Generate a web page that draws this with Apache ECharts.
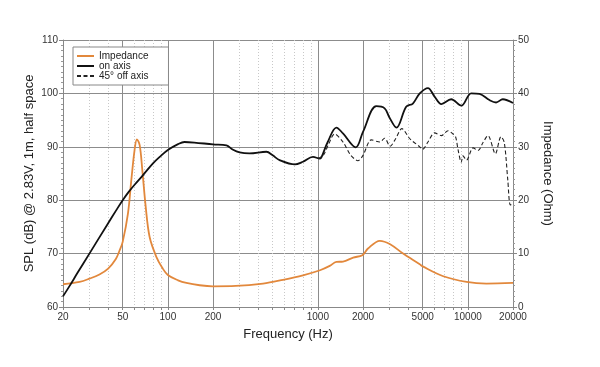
<!DOCTYPE html>
<html><head><meta charset="utf-8">
<script src="https://cdn.jsdelivr.net/npm/echarts@6/dist/echarts.min.js"></script>
<style>html,body{margin:0;padding:0;background:#fff}#c{width:600px;height:367px}</style>
</head><body><div id="c"></div>
<script>
// ---- tick / grid values ----
const xLabelValues = [20, 50, 100, 200, 1000, 2000, 5000, 10000, 20000];
const xMajorLines = [20, 50, 100, 200, 1000, 2000, 5000, 10000, 20000];
const xGridValues = [20, 30, 40, 50, 60, 70, 80, 90, 100, 200, 300, 400, 500, 600, 700, 800, 900,
  1000, 2000, 3000, 4000, 5000, 6000, 7000, 8000, 9000, 10000, 20000];

// ---- Impedance (Ohm) ----
const impFreq = [20, 25.8, 30, 35, 40, 45, 47.7, 50, 54.2, 57.1, 60, 62.2, 64.9, 67.6, 71.2, 75.6, 83.8, 92, 100, 117, 133, 163, 200, 284, 431, 586, 796, 1034, 1200, 1330, 1471, 1720, 1980, 2160, 2590, 3034, 3700, 4780, 5000, 6860, 9800, 13300, 20000];
const impOhm = [4.26, 4.69, 5.3, 6.1, 7.2, 9.0, 10.6, 12.2, 17.5, 23.8, 29.4, 31.4, 30.3, 25.6, 18.75, 13.1, 9.4, 7.3, 6.0, 5.0, 4.5, 4.07, 3.88, 3.94, 4.39, 5.1, 5.94, 6.88, 7.7, 8.44, 8.5, 9.26, 9.7, 10.95, 12.4, 11.76, 10.0, 8.0, 7.6, 5.76, 4.7, 4.39, 4.5];

// ---- On axis SPL (dB) ----
const onFreq = [20, 22.2, 25, 30, 40, 45, 50, 55, 60, 68.3, 79.6, 88.2, 100, 117, 129, 150, 200, 246, 270, 301, 350, 454, 500, 556, 702, 796, 928, 1034, 1056, 1164, 1330, 1471, 1790, 2000, 2454, 2787, 3000, 3340, 3880, 4300, 4780, 5420, 6000, 6660, 7740, 9040, 10530, 11960, 13930, 15420, 17100, 20000];
const onSpl = [62.0, 64.0, 66.4, 70.0, 75.7, 78.0, 80.0, 81.6, 82.9, 84.7, 86.9, 88.1, 89.4, 90.5, 90.9, 90.8, 90.45, 90.26, 89.5, 88.95, 88.76, 89.07, 88.4, 87.5, 86.7, 87.2, 88.1, 87.8, 88.0, 90.9, 93.6, 92.5, 89.9, 92.8, 97.6, 97.2, 95.5, 93.6, 97.5, 98.1, 100.0, 101.0, 99.4, 98.0, 98.9, 97.7, 100.0, 99.9, 98.75, 98.3, 98.9, 98.2];

// ---- 45° off axis SPL (dB) ----
const offFreq = [1000, 1088, 1180, 1292, 1471, 1650, 1850, 2000, 2272, 2590, 2787, 3034, 3300, 3630, 4080, 4300, 4780, 4980, 5420, 6000, 6660, 7380, 7960, 8300, 8600, 9040, 9280, 9800, 10830, 11700, 12620, 13620, 15260, 16620, 17500, 18460, 19200, 20000];
const offSpl = [87.8, 88.4, 90.5, 92.4, 90.9, 88.5, 87.4, 88.4, 91.3, 90.9, 91.6, 90.1, 91.5, 93.4, 91.6, 91.0, 90.0, 89.5, 90.9, 92.6, 92.1, 93.0, 92.4, 91.8, 89.5, 87.1, 88.3, 87.5, 89.8, 89.3, 90.8, 92.1, 88.7, 91.9, 90.8, 83.8, 79.1, 79.4];

const pairs = (xs, ys) => xs.map((x, i) => [x, ys[i]]);
const FONT = '"Liberation Sans", Arial, Helvetica, sans-serif';

const chart = echarts.init(document.getElementById('c'), null, {renderer: 'canvas'});
chart.setOption({
  animation: false,
  backgroundColor: '#ffffff',
  textStyle: {fontFamily: FONT},
  grid: {left: 63, right: 87, top: 40, bottom: 60, containLabel: false},
  legend: {
    orient: 'vertical', left: 73, top: 47,
    padding: [4, 20, 4, 3], itemGap: 0, itemWidth: 17, itemHeight: 9,
    backgroundColor: '#fff', borderColor: '#888', borderWidth: 1, borderRadius: 0,
    itemStyle: {color: 'rgba(0,0,0,0)', borderColor: 'rgba(0,0,0,0)', borderWidth: 0},
    textStyle: {fontSize: 10, lineHeight: 9, color: '#222', fontFamily: FONT},
    data: ['Impedance', 'on axis', '45° off axis']
  },
  xAxis: [
    {
      type: 'log', logBase: 10, min: 20, max: 20000, position: 'bottom',
      name: 'Frequency (Hz)', nameLocation: 'middle', nameGap: 21,
      nameTextStyle: {fontSize: 13, color: '#222', fontFamily: FONT},
      axisLine: {show: true, lineStyle: {color: '#888', width: 1}},
      axisTick: {show: true, length: 3, customValues: xGridValues, lineStyle: {color: '#888'}},
      axisLabel: {show: true, customValues: xLabelValues, fontSize: 10, color: '#333', margin: 5,
        formatter: v => String(Math.round(v))},
      splitLine: {show: true, lineStyle: {color: '#c8c8c8', width: 1, type: [1, 2]}},
      minorTick: {show: false}, minorSplitLine: {show: false}
    },
    {
      type: 'log', logBase: 10, min: 20, max: 20000, position: 'bottom', gridIndex: 0,
      axisLine: {show: false}, axisLabel: {show: false},
      axisTick: {show: false, customValues: xMajorLines},
      splitLine: {show: true, lineStyle: {color: '#8c8c8c', width: 1}}
    }
  ],
  yAxis: [
    {
      type: 'value', min: 60, max: 110, interval: 10, position: 'left',
      name: 'SPL (dB) @ 2.83V, 1m, half space', nameLocation: 'middle', nameGap: 27,
      nameMoveOverlap: false,
      nameTextStyle: {fontSize: 13, color: '#222', fontFamily: FONT},
      axisLine: {show: true, lineStyle: {color: '#888'}},
      axisTick: {show: true, length: 4, lineStyle: {color: '#888'}},
      minorTick: {show: true, splitNumber: 10, length: 2, lineStyle: {color: '#999'}},
      axisLabel: {fontSize: 10, color: '#333', margin: 5},
      splitLine: {show: true, lineStyle: {color: '#8c8c8c', width: 1}}
    },
    {
      type: 'value', min: 0, max: 50, interval: 10, position: 'right',
      name: 'Impedance (Ohm)', nameLocation: 'middle', nameGap: 28, nameRotate: -90,
      nameMoveOverlap: false,
      nameTextStyle: {fontSize: 13, color: '#222', fontFamily: FONT},
      axisLine: {show: true, lineStyle: {color: '#888'}},
      axisTick: {show: true, length: 4, lineStyle: {color: '#888'}},
      minorTick: {show: true, splitNumber: 10, length: 2, lineStyle: {color: '#999'}},
      axisLabel: {fontSize: 10, color: '#333', margin: 5},
      splitLine: {show: false}
    }
  ],
  series: [
    {
      name: 'Impedance', type: 'line', xAxisIndex: 0, yAxisIndex: 1,
      data: pairs(impFreq, impOhm), showSymbol: false, symbol: 'none', smooth: 0.35,
      lineStyle: {color: '#e2883c', width: 1.8}, itemStyle: {color: '#e2883c'}, z: 3
    },
    {
      name: 'on axis', type: 'line', xAxisIndex: 0, yAxisIndex: 0,
      data: pairs(onFreq, onSpl), showSymbol: false, symbol: 'none', smooth: 0.35,
      lineStyle: {color: '#111', width: 1.8}, itemStyle: {color: '#111'}, z: 4
    },
    {
      name: '45° off axis', type: 'line', xAxisIndex: 0, yAxisIndex: 0,
      data: pairs(offFreq, offSpl), showSymbol: false, symbol: 'none', smooth: 0.3,
      lineStyle: {color: '#222', width: 1.1, type: [4, 2.5]}, itemStyle: {color: '#222'}, z: 4
    }
  ]
});
</script>
</body></html>
